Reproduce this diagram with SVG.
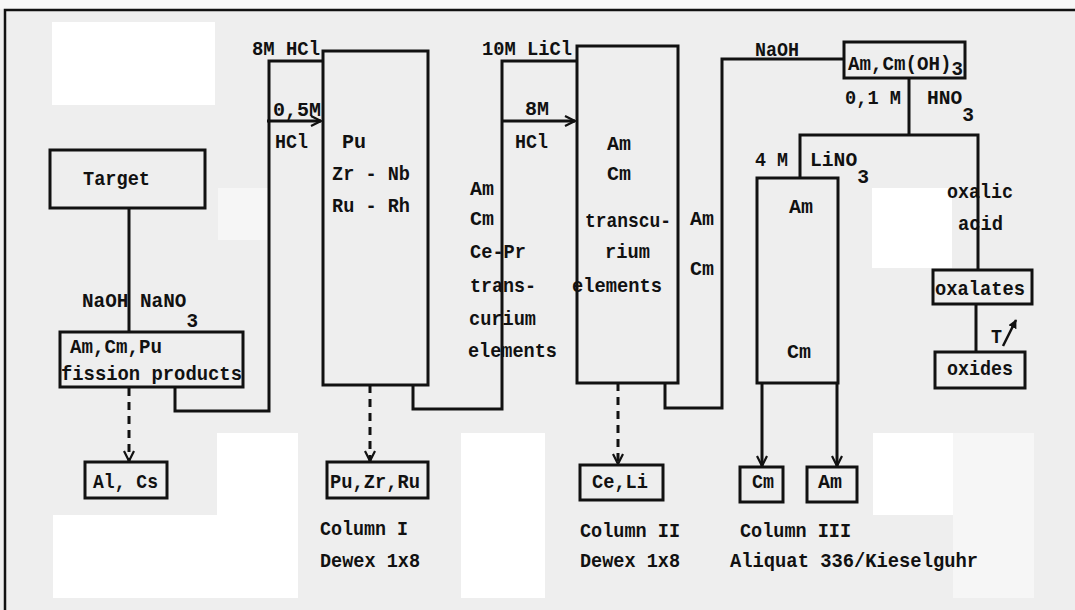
<svg xmlns="http://www.w3.org/2000/svg" width="1075" height="610" viewBox="0 0 1075 610">
<defs>
<style>
.t{font-family:"Liberation Mono","DejaVu Sans Mono",monospace;font-weight:bold;font-size:21px;fill:#111;}
.box{fill:none;stroke:#111;stroke-width:3;}
.ln{fill:none;stroke:#111;stroke-width:3;stroke-linejoin:miter;}
.dash{fill:none;stroke:#111;stroke-width:3;stroke-dasharray:8,6;}
.bg{fill:#eeeeee;}
.wp{fill:#ffffff;}
</style>
<marker id="ah" viewBox="0 0 12 12" refX="11" refY="6" markerWidth="12" markerHeight="12" markerUnits="userSpaceOnUse" orient="auto">
<path d="M1,1 L11,6 L1,11" fill="none" stroke="#111" stroke-width="2.2"/>
</marker>
<marker id="ahf" viewBox="0 0 10 10" refX="9" refY="5" markerWidth="9" markerHeight="9" markerUnits="userSpaceOnUse" orient="auto">
<path d="M0,0 L10,5 L0,10 z" fill="#111"/>
</marker>
</defs>

<g id="background">
<rect class="bg" x="0" y="0" width="1075" height="610"/>
<rect x="0" y="0" width="1075" height="9" fill="#f7f7f7"/>
<rect class="wp" x="52" y="22" width="163" height="83"/>
<rect x="218" y="188" width="50" height="52" fill="#f6f6f6"/>
<rect class="wp" x="872" y="188" width="80" height="80"/>
<rect class="wp" x="217" y="433" width="81" height="82"/>
<rect class="wp" x="53" y="515" width="245" height="83"/>
<rect class="wp" x="461" y="433" width="84" height="165"/>
<rect class="wp" x="873" y="433" width="80" height="82"/>
<rect x="953" y="433" width="81" height="165" fill="#f6f6f6"/>
<path d="M5,610 L5,10 L1075,10" fill="none" stroke="#111" stroke-width="2.5"/>
</g>

<g id="connectors">
<line class="ln" x1="129" y1="208" x2="129" y2="332"/>
<line class="dash" x1="129" y1="388" x2="129" y2="461" marker-end="url(#ah)"/>
<polyline class="ln" points="175,387 175,411 269,411 269,61 323,61"/>
<line class="ln" x1="267" y1="121" x2="321" y2="121" marker-end="url(#ah)"/>
<line class="dash" x1="370" y1="385" x2="370" y2="461" marker-end="url(#ah)"/>
<polyline class="ln" points="413,385 413,409 502,409 502,61 577,61"/>
<line class="ln" x1="502" y1="121" x2="575" y2="121" marker-end="url(#ah)"/>
<line class="dash" x1="618" y1="383" x2="618" y2="464" marker-end="url(#ah)"/>
<polyline class="ln" points="665,383 665,408 722,408 722,59 844,59"/>
<line class="ln" x1="909" y1="78" x2="909" y2="135"/>
<polyline class="ln" points="800,178 800,135 978,135 978,270"/>
<line class="ln" x1="762" y1="383" x2="762" y2="466" marker-end="url(#ah)"/>
<line class="ln" x1="837" y1="383" x2="837" y2="466" marker-end="url(#ah)"/>
<line class="ln" x1="976" y1="304" x2="976" y2="352"/>
<line x1="1003" y1="346" x2="1016" y2="320" stroke="#111" stroke-width="2.5" marker-end="url(#ahf)"/>
</g>

<g id="connector-labels">
<text class="t" x="82" y="307" textLength="116" lengthAdjust="spacingAndGlyphs">NaOH NaNO<tspan dy="20">3</tspan></text>
<text class="t" x="252" y="55" textLength="68" lengthAdjust="spacingAndGlyphs">8M HCl</text>
<text class="t" x="273" y="116" textLength="48" lengthAdjust="spacingAndGlyphs">0,5M</text>
<text class="t" x="275" y="148" textLength="33" lengthAdjust="spacingAndGlyphs">HCl</text>
<text class="t" x="482" y="55" textLength="90" lengthAdjust="spacingAndGlyphs">10M LiCl</text>
<text class="t" x="525" y="115" textLength="24" lengthAdjust="spacingAndGlyphs">8M</text>
<text class="t" x="515" y="148" textLength="33" lengthAdjust="spacingAndGlyphs">HCl</text>
<text class="t" x="470" y="195" textLength="24" lengthAdjust="spacingAndGlyphs">Am</text>
<text class="t" x="470" y="225" textLength="24" lengthAdjust="spacingAndGlyphs">Cm</text>
<text class="t" x="470" y="258" textLength="56" lengthAdjust="spacingAndGlyphs">Ce-Pr</text>
<text class="t" x="470" y="292" textLength="66" lengthAdjust="spacingAndGlyphs">trans-</text>
<text class="t" x="469" y="325" textLength="67" lengthAdjust="spacingAndGlyphs">curium</text>
<text class="t" x="468" y="357" textLength="89" lengthAdjust="spacingAndGlyphs">elements</text>
<text class="t" x="690" y="225" textLength="24" lengthAdjust="spacingAndGlyphs">Am</text>
<text class="t" x="690" y="275" textLength="24" lengthAdjust="spacingAndGlyphs">Cm</text>
<text class="t" x="755" y="56" textLength="44" lengthAdjust="spacingAndGlyphs">NaOH</text>
<text class="t" x="845" y="104" textLength="56" lengthAdjust="spacingAndGlyphs">0,1 M</text>
<text class="t" x="927" y="104" textLength="47" lengthAdjust="spacingAndGlyphs">HNO<tspan dy="17">3</tspan></text>
<text class="t" x="755" y="166" textLength="33" lengthAdjust="spacingAndGlyphs">4 M</text>
<text class="t" x="810" y="166" textLength="59" lengthAdjust="spacingAndGlyphs">LiNO<tspan dy="17">3</tspan></text>
<text class="t" x="947" y="198" textLength="66" lengthAdjust="spacingAndGlyphs">oxalic</text>
<text class="t" x="958" y="230" textLength="45" lengthAdjust="spacingAndGlyphs">acid</text>
<text class="t" x="991" y="343" textLength="11" lengthAdjust="spacingAndGlyphs">T</text>
</g>

<g id="target">
<rect class="box" x="50" y="150" width="155" height="58"/>
<text class="t" x="83" y="185" textLength="67" lengthAdjust="spacingAndGlyphs">Target</text>
</g>

<g id="fission-products">
<rect class="box" x="60" y="332" width="183" height="55"/>
<text class="t" x="70" y="353" textLength="92" lengthAdjust="spacingAndGlyphs">Am,Cm,Pu</text>
<text class="t" x="61" y="380" textLength="181" lengthAdjust="spacingAndGlyphs">fission products</text>
</g>

<g id="al-cs">
<rect class="box" x="85" y="462" width="82" height="36"/>
<text class="t" x="93" y="488" textLength="65" lengthAdjust="spacingAndGlyphs">Al, Cs</text>
</g>

<g id="column-1">
<rect class="box" x="323" y="51" width="105" height="334"/>
<text class="t" x="342" y="148" textLength="24" lengthAdjust="spacingAndGlyphs">Pu</text>
<text class="t" x="332" y="180" textLength="78" lengthAdjust="spacingAndGlyphs">Zr - Nb</text>
<text class="t" x="332" y="212" textLength="78" lengthAdjust="spacingAndGlyphs">Ru - Rh</text>
</g>

<g id="pu-zr-ru">
<rect class="box" x="327" y="462" width="101" height="36"/>
<text class="t" x="330" y="488" textLength="90" lengthAdjust="spacingAndGlyphs">Pu,Zr,Ru</text>
<text class="t" x="320" y="535" textLength="88" lengthAdjust="spacingAndGlyphs">Column I</text>
<text class="t" x="320" y="567" textLength="100" lengthAdjust="spacingAndGlyphs">Dewex 1x8</text>
</g>

<g id="column-2">
<rect class="box" x="577" y="46" width="101" height="337"/>
<text class="t" x="607" y="150" textLength="24" lengthAdjust="spacingAndGlyphs">Am</text>
<text class="t" x="607" y="180" textLength="24" lengthAdjust="spacingAndGlyphs">Cm</text>
<text class="t" x="585" y="227" textLength="86" lengthAdjust="spacingAndGlyphs">transcu-</text>
<text class="t" x="605" y="258" textLength="45" lengthAdjust="spacingAndGlyphs">rium</text>
<text class="t" x="572" y="292" textLength="90" lengthAdjust="spacingAndGlyphs">elements</text>
</g>

<g id="ce-li">
<rect class="box" x="580" y="465" width="83" height="35"/>
<text class="t" x="592" y="488" textLength="56" lengthAdjust="spacingAndGlyphs">Ce,Li</text>
<text class="t" x="580" y="537" textLength="100" lengthAdjust="spacingAndGlyphs">Column II</text>
<text class="t" x="580" y="567" textLength="100" lengthAdjust="spacingAndGlyphs">Dewex 1x8</text>
</g>

<g id="hydroxide">
<rect class="box" x="844" y="42" width="121" height="36"/>
<text class="t" x="848" y="70" textLength="115" lengthAdjust="spacingAndGlyphs">Am,Cm(OH)<tspan dy="5">3</tspan></text>
</g>

<g id="column-3">
<rect class="box" x="757" y="178" width="81" height="205"/>
<text class="t" x="789" y="213" textLength="24" lengthAdjust="spacingAndGlyphs">Am</text>
<text class="t" x="787" y="358" textLength="24" lengthAdjust="spacingAndGlyphs">Cm</text>
</g>

<g id="cm-out">
<rect class="box" x="740" y="467" width="43" height="35"/>
<text class="t" x="752" y="488" textLength="22" lengthAdjust="spacingAndGlyphs">Cm</text>
</g>

<g id="am-out">
<rect class="box" x="807" y="467" width="50" height="35"/>
<text class="t" x="818" y="488" textLength="24" lengthAdjust="spacingAndGlyphs">Am</text>
<text class="t" x="740" y="537" textLength="111" lengthAdjust="spacingAndGlyphs">Column III</text>
<text class="t" x="730" y="567" textLength="248" lengthAdjust="spacingAndGlyphs">Aliquat 336/Kieselguhr</text>
</g>

<g id="oxalates">
<rect class="box" x="933" y="270" width="99" height="34"/>
<text class="t" x="935" y="295" textLength="90" lengthAdjust="spacingAndGlyphs">oxalates</text>
</g>

<g id="oxides">
<rect class="box" x="935" y="352" width="90" height="36"/>
<text class="t" x="947" y="375" textLength="66" lengthAdjust="spacingAndGlyphs">oxides</text>
</g>
</svg>
